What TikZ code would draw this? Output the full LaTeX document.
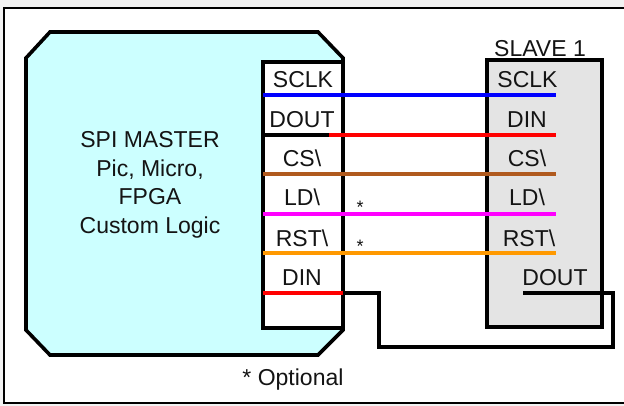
\documentclass[tikz,border=0pt]{standalone}
\usepackage{fontspec}
\setmainfont{Liberation Sans}
\definecolor{txt}{HTML}{141414}
\definecolor{mfill}{HTML}{CCFFFF}
\definecolor{sfill}{HTML}{E4E4E4}
\definecolor{bgc}{HTML}{F2F2F2}
\definecolor{wblue}{HTML}{0000FF}
\definecolor{wred}{HTML}{FF0000}
\definecolor{wbrown}{HTML}{B05A1E}
\definecolor{wmag}{HTML}{FF00FF}
\definecolor{worange}{HTML}{FF9900}
\tikzset{
  lbl/.style={anchor=base, inner sep=0pt, text=txt, font=\fontsize{23}{28}\selectfont},
  boxline/.style={draw=black, line width=3.6pt, line join=miter},
  wire/.style={line width=3.4pt},
  starlbl/.style={anchor=base, inner sep=0pt, text=txt, font=\fontsize{18}{20}\selectfont}
}
\begin{document}
\begin{tikzpicture}[x=1pt, y=-1pt]
\useasboundingbox (0,0) rectangle (624,406);
\fill[bgc] (0,0) rectangle (624,406);
\draw[fill=white, line width=2pt] (4,8) rectangle (640,403);
% master
\draw[boxline, fill=mfill] (26,58) -- (50,32) -- (318,32) -- (343,58) -- (343,330) -- (318,355) -- (50,355) -- (26,330) -- cycle;
\node[lbl] (m1) at (150,148) {SPI MASTER};
\node[lbl] (m2) at (150,176.5) {Pic, Micro,};
\node[lbl] (m3) at (150,205) {FPGA};
\node[lbl] (m4) at (150,233.5) {Custom Logic};
% pin box
\draw[boxline, fill=white] (263,62) rectangle (343,328);
\coordinate (div1) at (263,135);
\coordinate (div2) at (343,135);
\draw[boxline] (div1) -- (div2);
\node[lbl] (pSCLK) at (303,88) {SCLK};
\node[lbl] (pDOUT) at (302,128) {DOUT};
\node[lbl] (pCS) at (302,167) {CS\textbackslash};
\node[lbl] (pLD) at (302,206) {LD\textbackslash};
\node[lbl] (pRST) at (302,246.5) {RST\textbackslash};
\node[lbl] (pDIN) at (302,286) {DIN};
% slave
\draw[boxline, fill=sfill] (487,60) rectangle (602,327);
\node[lbl] (sTitle) at (540,57) {SLAVE 1};
\node[lbl] (sSCLK) at (527.5,88) {SCLK};
\node[lbl] (sDIN) at (527,128) {DIN};
\node[lbl] (sCS) at (527,167) {CS\textbackslash};
\node[lbl] (sLD) at (527,206) {LD\textbackslash};
\node[lbl] (sRST) at (529,246.5) {RST\textbackslash};
\node[lbl] (sDOUT) at (555,285) {DOUT};
% wire endpoints
\coordinate (mSCLK) at (263,95);   \coordinate (eSCLK) at (556,95);
\coordinate (mDOUT) at (329,135);  \coordinate (eDIN) at (556,135);
\coordinate (mCS) at (263,174);    \coordinate (eCS) at (556,174);
\coordinate (mLD) at (263,214);    \coordinate (eLD) at (556,214);
\coordinate (mRST) at (263,253);   \coordinate (eRST) at (556,253);
\coordinate (mDIN) at (263,293);   \coordinate (mDINe) at (343,293);
\coordinate (l1) at (379,293); \coordinate (l2) at (379,347);
\coordinate (l3) at (613,347); \coordinate (l4) at (613,293);
\coordinate (eDOUT) at (523,293);
\draw[wire, wblue] (mSCLK) -- (eSCLK);
\draw[wire, wred] (mDOUT) -- (eDIN);
\draw[wire, wbrown] (mCS) -- (eCS);
\draw[wire, wmag] (mLD) -- (eLD);
\draw[wire, worange] (mRST) -- (eRST);
\draw[wire, wred] (mDIN) -- (mDINe);
\draw[wire, black, line join=miter] (mDINe) -- (l1) -- (l2) -- (l3) -- (l4) -- (eDOUT);
% stars and note
\node[starlbl] (st1) at (360,214) {*};
\node[starlbl] (st2) at (360,253) {*};
\node[lbl] (opt) at (293,385) {* Optional};
\end{tikzpicture}
\end{document}
